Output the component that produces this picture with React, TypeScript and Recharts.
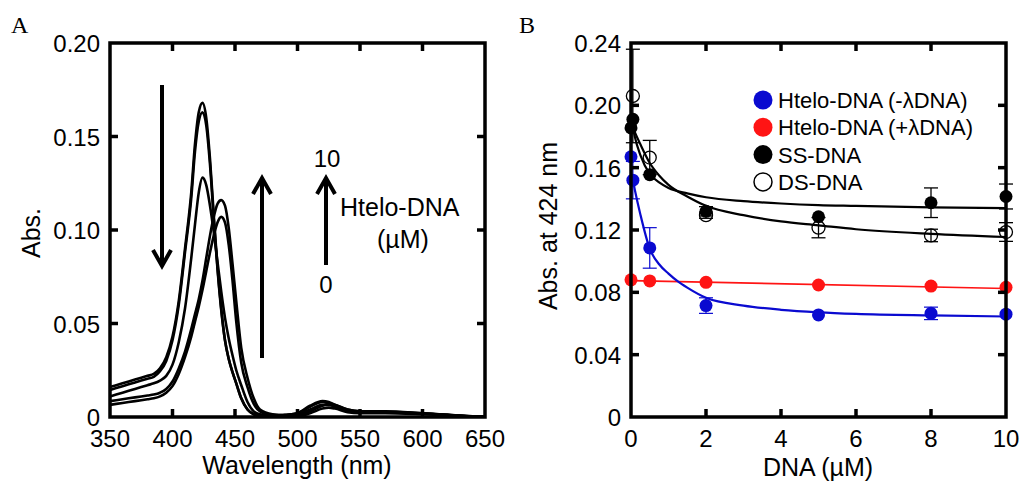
import React from "react";
import { LineChart, ComposedChart, Line, Scatter, ErrorBar, XAxis, YAxis } from "recharts";

const SANS = '"Liberation Sans", Arial, sans-serif';
const SERIF = '"Liberation Serif", "Times New Roman", serif';
const BLUE = "#0a0ad0";
const RED = "#ff1414";

// ---- panel A: absorption spectra ----
const wavelengths = [
    350, 360, 370, 380, 385, 390, 395, 400, 405, 410, 415, 418, 421, 424, 427, 430, 433, 436, 439, 442,
    445, 448, 451, 455, 460, 465, 470, 480, 490, 500, 510, 520, 525, 530, 540, 550, 570, 600, 620, 640, 650,
];
const spec0 = [
    0.016, 0.018, 0.02, 0.022, 0.023, 0.026, 0.032, 0.043, 0.062, 0.09, 0.12, 0.146, 0.163, 0.168, 0.16, 0.138,
    0.108, 0.08, 0.058, 0.041, 0.031, 0.024, 0.018, 0.01, 0.004, 0.0015, 0.0008, 0.0005, 0.001, 0.002, 0.006,
    0.0085, 0.008, 0.0065, 0.004, 0.003, 0.0028, 0.002, 0.0012, 0.0003, 0.0002,
];
const spec1 = [
    0.0145, 0.0165, 0.0185, 0.0205, 0.0215, 0.0245, 0.03, 0.041, 0.06, 0.088, 0.117, 0.142, 0.158, 0.163, 0.156,
    0.135, 0.106, 0.079, 0.057, 0.041, 0.031, 0.024, 0.018, 0.01, 0.004, 0.0015, 0.0008, 0.0005, 0.001, 0.002,
    0.0055, 0.008, 0.0075, 0.006, 0.0035, 0.003, 0.0026, 0.002, 0.001, 0.0003, 0.0002,
];
const spec2 = [
    0.011, 0.013, 0.015, 0.017, 0.018, 0.0195, 0.022, 0.028, 0.04, 0.058, 0.085, 0.103, 0.12, 0.128, 0.124,
    0.113, 0.099, 0.083, 0.067, 0.053, 0.042, 0.033, 0.025, 0.017, 0.008, 0.003, 0.0015, 0.001, 0.001, 0.0015,
    0.004, 0.0065, 0.0065, 0.0055, 0.003, 0.0025, 0.0024, 0.0018, 0.001, 0.0003, 0.0002,
];
const spec3 = [
    0.0085, 0.0095, 0.0105, 0.0115, 0.012, 0.013, 0.015, 0.019, 0.026, 0.035, 0.047, 0.055, 0.063, 0.073, 0.085,
    0.097, 0.107, 0.114, 0.116, 0.113, 0.101, 0.082, 0.062, 0.037, 0.021, 0.01, 0.004, 0.0015, 0.001, 0.001,
    0.003, 0.006, 0.007, 0.0065, 0.004, 0.003, 0.003, 0.002, 0.0012, 0.0004, 0.0002,
];
const spec4 = [
    0.0065, 0.0075, 0.0085, 0.0095, 0.01, 0.011, 0.013, 0.0165, 0.023, 0.032, 0.043, 0.051, 0.059, 0.068, 0.078,
    0.088, 0.097, 0.104, 0.107, 0.104, 0.092, 0.073, 0.051, 0.029, 0.016, 0.007, 0.003, 0.001, 0.0008, 0.0005,
    0.002, 0.0045, 0.005, 0.0045, 0.0025, 0.002, 0.002, 0.0015, 0.001, 0.0003, 0.0002,
];
const spectra = [spec0, spec1, spec2, spec3, spec4];
const specTicksX = [350, 400, 450, 500, 550, 600, 650];
const specTicksY = [0, 0.05, 0.1, 0.15, 0.2];

const spectraData = wavelengths.map((wl, i) => {
    const row: Record<string, number> = { wl };
    spectra.forEach((s, k) => (row["c" + k] = s[i]));
    return row;
});

// ---- panel B: titration ----
const dnaTicksX = [0, 2, 4, 6, 8, 10];
const dnaTicksY = [0, 0.04, 0.08, 0.12, 0.16, 0.2, 0.24];

const teloMinusX = [0, 0.05, 0.5, 2, 5, 8, 10];
const teloMinusY = [0.167, 0.152, 0.1085, 0.0715, 0.0655, 0.0665, 0.066];
const teloMinusErr = [0, 0.012, 0.013, 0.005, 0, 0.004, 0];
const teloPlusX = [0, 0.5, 2, 5, 8, 10];
const teloPlusY = [0.088, 0.0873, 0.0864, 0.0847, 0.084, 0.0832];
const ssX = [0, 0.05, 0.5, 2, 5, 8, 10];
const ssY = [0.1855, 0.191, 0.1555, 0.132, 0.1285, 0.1375, 0.1415];
const ssErr = [0, 0, 0, 0.003, 0, 0.0095, 0.008];
const dsX = [0.05, 0.5, 2, 5, 8, 10];
const dsY = [0.206, 0.1665, 0.1295, 0.1215, 0.1165, 0.1187];
const dsErr = [0.03, 0.011, 0.002, 0.0065, 0.004, 0.006];

// fitted curves
const teloMinusFitX = [0.05, 0.1, 0.25, 0.5, 0.75, 1, 1.25, 1.5, 2, 3, 4, 5, 6, 8, 10];
const teloMinusFitY = [
    0.152, 0.146, 0.13, 0.108, 0.098, 0.092, 0.087, 0.083, 0.0765, 0.0715, 0.0688, 0.0672, 0.0662, 0.0652, 0.0645,
];
const teloPlusFitX = [0, 10];
const teloPlusFitY = [0.0875, 0.0825];
const dnaFitX = [0.05, 0.1, 0.25, 0.5, 0.75, 1, 1.5, 2, 3, 4, 5, 6, 8, 10];
const ssFitY = [0.186, 0.18, 0.168, 0.156, 0.1505, 0.147, 0.1435, 0.141, 0.1385, 0.137, 0.136, 0.1355, 0.1345, 0.134];
const dsFitY = [0.186, 0.183, 0.175, 0.163, 0.155, 0.149, 0.1415, 0.1355, 0.1295, 0.1255, 0.123, 0.1205, 0.1175, 0.1155];

const pts = (xs: number[], ys: number[], errs?: number[]) =>
    xs.map((x, i) => ({ x, y: ys[i], err: errs ? errs[i] : 0 }));

// plot boxes (page pixels) shared by the charts and the frame overlay
const A_BOX = { left: 110, top: 43, width: 375, height: 374 };
const B_BOX = { left: 631, top: 43, width: 375, height: 374 };

const fmtY = (v: number) => (v === 0 ? "0" : v.toFixed(2));
const TICK = 8;
const FW = 3.5;

const BottomLabel = (p: any) => (
    <text x={p.x} y={p.y + 30} textAnchor="middle" fontSize={24} fontFamily={SANS} fill="#000">
        {p.payload.value}
    </text>
);
const LeftLabel = (p: any) => (
    <text x={p.x - 10} y={p.y + 9} textAnchor="end" fontSize={24} fontFamily={SANS} fill="#000">
        {fmtY(p.payload.value)}
    </text>
);

const dot = (fill: string, open = false) => (p: any) =>
    open ? (
        <circle cx={p.cx} cy={p.cy} r={6.5} fill="none" stroke="#000" strokeWidth={1.3} />
    ) : (
        <circle cx={p.cx} cy={p.cy} r={6.5} fill={fill} />
    );

function SpectraPanel() {
    return (
        <LineChart width={510} height={481} data={spectraData} margin={{ top: 43, right: 25, bottom: 0, left: 50 }}>
            <XAxis
                dataKey="wl"
                type="number"
                domain={[350, 650]}
                ticks={specTicksX}
                interval={0}
                height={64}
                tickSize={0}
                tickMargin={0}
                tickLine={false}
                axisLine={false}
                tick={BottomLabel}
            />
            <YAxis
                type="number"
                domain={[0, 0.2]}
                ticks={specTicksY}
                interval={0}
                width={60}
                tickSize={0}
                tickMargin={0}
                tickLine={false}
                axisLine={false}
                tick={LeftLabel}
            />
            {spectra.map((_, k) => (
                <Line
                    key={k}
                    dataKey={"c" + k}
                    type="monotone"
                    stroke="#000"
                    strokeWidth={2.6}
                    dot={false}
                    isAnimationActive={false}
                />
            ))}
        </LineChart>
    );
}

function TitrationPanel() {
    return (
        <ComposedChart width={511} height={481} margin={{ top: 43, right: 15, bottom: 0, left: 61 }}>
            <XAxis
                dataKey="x"
                type="number"
                domain={[0, 10]}
                ticks={dnaTicksX}
                interval={0}
                height={64}
                tickSize={0}
                tickMargin={0}
                tickLine={false}
                axisLine={false}
                tick={BottomLabel}
            />
            <YAxis
                type="number"
                domain={[0, 0.24]}
                ticks={dnaTicksY}
                interval={0}
                width={60}
                tickSize={0}
                tickMargin={0}
                tickLine={false}
                axisLine={false}
                tick={LeftLabel}
            />
            <Line
                data={pts(dnaFitX, ssFitY)}
                dataKey="y"
                type="monotone"
                stroke="#000"
                strokeWidth={2.2}
                dot={false}
                isAnimationActive={false}
            />
            <Line
                data={pts(dnaFitX, dsFitY)}
                dataKey="y"
                type="monotone"
                stroke="#000"
                strokeWidth={2.2}
                dot={false}
                isAnimationActive={false}
            />
            <Line
                data={pts(teloPlusFitX, teloPlusFitY)}
                dataKey="y"
                type="linear"
                stroke={RED}
                strokeWidth={1.6}
                dot={false}
                isAnimationActive={false}
            />
            <Line
                data={pts(teloMinusFitX, teloMinusFitY)}
                dataKey="y"
                type="monotone"
                stroke={BLUE}
                strokeWidth={2.2}
                dot={false}
                isAnimationActive={false}
            />
            <Scatter data={pts(dsX, dsY, dsErr)} dataKey="y" shape={dot("#000", true)} isAnimationActive={false}>
                <ErrorBar dataKey="err" direction="y" width={7} stroke="#000" strokeWidth={1.3} isAnimationActive={false} />
            </Scatter>
            <Scatter data={pts(ssX, ssY, ssErr)} dataKey="y" shape={dot("#000")} isAnimationActive={false}>
                <ErrorBar dataKey="err" direction="y" width={7} stroke="#000" strokeWidth={1.3} isAnimationActive={false} />
            </Scatter>
            <Scatter data={pts(teloPlusX, teloPlusY)} dataKey="y" shape={dot(RED)} isAnimationActive={false} />
            <Scatter
                data={pts(teloMinusX, teloMinusY, teloMinusErr)}
                dataKey="y"
                shape={dot(BLUE)}
                isAnimationActive={false}
            >
                <ErrorBar dataKey="err" direction="y" width={7} stroke={BLUE} strokeWidth={1.2} isAnimationActive={false} />
            </Scatter>
        </ComposedChart>
    );
}

const legendRows = [
    { label: "Htelo-DNA (-λDNA)", color: BLUE, open: false },
    { label: "Htelo-DNA (+λDNA)", color: RED, open: false },
    { label: "SS-DNA", color: "#000", open: false },
    { label: "DS-DNA", color: "#000", open: true },
];

// boxed frame with inward ticks on all four sides
function Frame({ box, xd, yd, xt, yt }: any) {
    const sx = (v: number) => box.left + ((v - xd[0]) / (xd[1] - xd[0])) * box.width;
    const sy = (v: number) => box.top + box.height - ((v - yd[0]) / (yd[1] - yd[0])) * box.height;
    const r = box.left + box.width;
    const b = box.top + box.height;
    return (
        <g stroke="#000" strokeWidth={FW} fill="none">
            <rect x={box.left} y={box.top} width={box.width} height={box.height} />
            {xt.slice(1, -1).map((v: number) => (
                <g key={"x" + v}>
                    <line x1={sx(v)} y1={b} x2={sx(v)} y2={b - TICK} />
                    <line x1={sx(v)} y1={box.top} x2={sx(v)} y2={box.top + TICK} />
                </g>
            ))}
            {yt.slice(1, -1).map((v: number) => (
                <g key={"y" + v}>
                    <line x1={box.left} y1={sy(v)} x2={box.left + TICK} y2={sy(v)} />
                    <line x1={r} y1={sy(v)} x2={r - TICK} y2={sy(v)} />
                </g>
            ))}
        </g>
    );
}

function Overlay() {
    const arrow = (x: number, y1: number, y2: number, key: string) => {
        const dir = y2 > y1 ? 1 : -1;
        return (
            <g key={key} stroke="#000" strokeWidth={4} fill="none">
                <line x1={x} y1={y1} x2={x} y2={y2} />
                <polyline points={`${x - 9},${y2 - dir * 16} ${x},${y2} ${x + 9},${y2 - dir * 16}`} strokeLinejoin="miter" />
            </g>
        );
    };
    const t = { fontFamily: SANS, fill: "#000" };
    return (
        <svg width={1021} height={481} style={{ position: "absolute", left: 0, top: 0, pointerEvents: "none" }}>
            <Frame box={A_BOX} xd={[350, 650]} yd={[0, 0.2]} xt={specTicksX} yt={specTicksY} />
            <Frame box={B_BOX} xd={[0, 10]} yd={[0, 0.24]} xt={dnaTicksX} yt={dnaTicksY} />
            <text x={11} y={33} fontFamily={SERIF} fontSize={24}>A</text>
            <text x={519} y={33} fontFamily={SERIF} fontSize={24}>B</text>
            <text {...t} fontSize={25} textAnchor="middle" transform="translate(40,233) rotate(-90)">Abs.</text>
            <text {...t} fontSize={25} x={297} y={474} textAnchor="middle">Wavelength (nm)</text>
            <text {...t} fontSize={25} textAnchor="middle" transform="translate(557,226) rotate(-90)">Abs. at 424 nm</text>
            <text {...t} fontSize={25} x={818} y={476} textAnchor="middle">DNA (µM)</text>
            {arrow(162, 85, 266, "down")}
            {arrow(262, 358, 178, "up")}
            {arrow(326, 265, 178, "up2")}
            <text {...t} fontSize={24} x={327} y={167} textAnchor="middle">10</text>
            <text {...t} fontSize={24} x={326} y={293} textAnchor="middle">0</text>
            <text {...t} fontSize={25} x={340} y={216}>Htelo-DNA</text>
            <text {...t} fontSize={25} x={403} y={248} textAnchor="middle">(µM)</text>
            {legendRows.map((r, i) => {
                const cy = 100 + i * 27.3;
                return (
                    <g key={r.label}>
                        {r.open ? (
                            <circle cx={763} cy={cy} r={9} fill="none" stroke="#000" strokeWidth={1.5} />
                        ) : (
                            <circle cx={763} cy={cy} r={9.5} fill={r.color} />
                        )}
                        <text {...t} fontSize={22} x={778} y={cy + 8}>{r.label}</text>
                    </g>
                );
            })}
        </svg>
    );
}

export default function App() {
    return (
        <div style={{ position: "relative", width: 1021, height: 481, background: "#fff" }}>
            <style>{"body{margin:0}"}</style>
            <div style={{ position: "absolute", left: 0, top: 0 }}>
                <SpectraPanel />
            </div>
            <div style={{ position: "absolute", left: 510, top: 0 }}>
                <TitrationPanel />
            </div>
            <Overlay />
        </div>
    );
}
